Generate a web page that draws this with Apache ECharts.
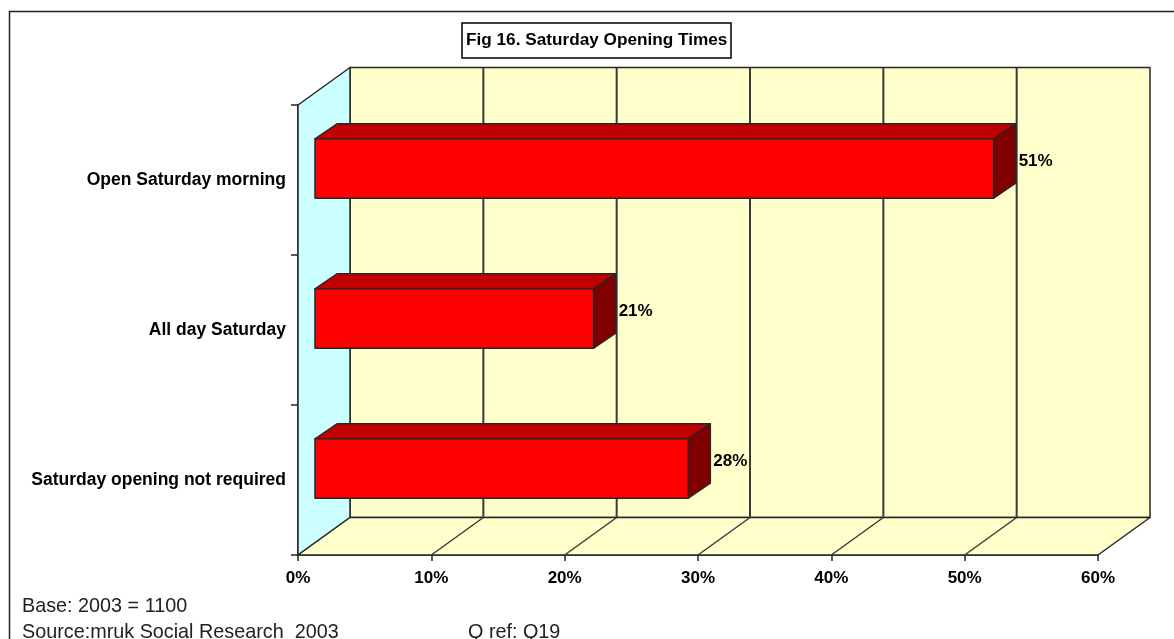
<!DOCTYPE html>
<html>
<head>
<meta charset="utf-8">
<title>Fig 16. Saturday Opening Times</title>
<script src="https://cdn.jsdelivr.net/npm/echarts@6/dist/echarts.min.js"></script>
<style>
  html, body { margin: 0; padding: 0; background: #fff; }
  #chart { width: 1174px; height: 639px; }
</style>
</head>
<body>
<div id="chart"></div>
<script>
const CATEGORIES = ['Saturday opening not required', 'All day Saturday', 'Open Saturday morning'];
// Bar lengths; the printed labels are these rounded.
const VALUES = [28, 20.9, 50.9];
const TICK_VALUES = [0, 10, 20, 30, 40, 50, 60];

const TITLE = 'Fig 16. Saturday Opening Times';
const NOTES = ['Base: 2003 = 1100', 'Source:mruk Social Research  2003'];
const QREF = 'Q ref: Q19';

// Fake 3D: wall depth and bar depth, in pixels.
const WALL_DX = 52;
const WALL_DY = -37.5;
const BAR_DX = 22;
const BAR_DY = -15;
const BAR_OFF_X = 17;
const BAR_OFF_Y = -11.5;
const BAR_H = 59.5;

const LINE = '#262626';
const GRID_LINE = '#3a3a3a';
const WALL = '#ffffcc';
const SIDE_WALL = '#ccffff';
const FONT = '"Liberation Sans", Arial, sans-serif';
const BOLD_SIZE = 17;
const NOTE_FONT = '19.8px ' + FONT;

function poly(points, fill, z2) {
  return {
    type: 'polygon',
    z2: z2 || 0,
    shape: { points },
    style: { fill, stroke: LINE, lineWidth: 1.5, lineJoin: 'round' },
  };
}

function seg(x1, y1, x2, y2, width) {
  return {
    type: 'line',
    z2: 2,
    shape: { x1, y1, x2, y2 },
    style: { stroke: GRID_LINE, lineWidth: width },
  };
}

// Side wall, floor, back wall and the gridlines running over them.
function renderWalls(params, api) {
  const maxTick = TICK_VALUES[TICK_VALUES.length - 1];
  const x0 = api.coord([0, CATEGORIES[0]])[0];
  const x1 = api.coord([maxTick, CATEGORIES[0]])[0];
  const yt = params.coordSys.y;
  const bottom = yt + params.coordSys.height;
  const dx = WALL_DX, dy = WALL_DY;
  const children = [
    poly([[x0 + dx, yt + dy], [x1 + dx, yt + dy], [x1 + dx, bottom + dy], [x0 + dx, bottom + dy]], WALL),
    poly([[x0, yt], [x0 + dx, yt + dy], [x0 + dx, bottom + dy], [x0, bottom]], SIDE_WALL, 1),
    poly([[x0, bottom], [x0 + dx, bottom + dy], [x1 + dx, bottom + dy], [x1, bottom]], WALL, 1),
  ];
  TICK_VALUES.slice(1, -1).forEach(v => {
    const x = api.coord([v, CATEGORIES[0]])[0];
    children.push(seg(x + dx, yt + dy, x + dx, bottom + dy, 2));
    children.push(seg(x, bottom, x + dx, bottom + dy, 1.5));
  });
  return { type: 'group', children };
}

function renderBar(params, api) {
  const value = api.value(0);
  const [xStart, yc] = api.coord([0, api.value(1)]);
  const xEnd = api.coord([value, api.value(1)])[0];
  const l = xStart + BAR_OFF_X;
  const r = xEnd + BAR_OFF_X;
  const t = yc + BAR_OFF_Y - BAR_H / 2;
  const b = t + BAR_H;
  const dx = BAR_DX, dy = BAR_DY;
  return {
    type: 'group',
    children: [
      poly([[l, t], [l + dx, t + dy], [r + dx, t + dy], [r, t]], '#c00000'),
      poly([[r, t], [r + dx, t + dy], [r + dx, b + dy], [r, b]], '#800000'),
      poly([[l, t], [r, t], [r, b], [l, b]], '#ff0000'),
      {
        type: 'text',
        style: {
          x: r + dx + 3,
          y: t + 23,
          text: Math.round(value) + '%',
          fill: '#000',
          font: 'bold ' + BOLD_SIZE + 'px ' + FONT,
          textVerticalAlign: 'middle',
        },
      },
    ],
  };
}

const chart = echarts.init(document.getElementById('chart'), null, { renderer: 'canvas' });

chart.setOption({
  animation: false,
  backgroundColor: '#fff',
  title: {
    text: TITLE,
    left: 462,
    top: 23,
    padding: [9, 4, 9, 4],
    backgroundColor: '#fff',
    borderColor: '#000',
    borderWidth: 1.5,
    textStyle: { fontFamily: FONT, fontSize: 17.2, fontWeight: 'bold', color: '#000' },
    z: 10,
  },
  grid: { left: 298, top: 105, width: 800, height: 450 },
  xAxis: {
    type: 'value',
    min: 0,
    max: 60,
    interval: 10,
    axisLine: { show: true, onZero: false, lineStyle: { color: LINE, width: 1.5 } },
    axisTick: { show: true, length: 6, lineStyle: { color: LINE, width: 1.5 } },
    splitLine: { show: false },
    axisLabel: {
      formatter: '{value}%',
      margin: 15,
      color: '#000',
      fontFamily: FONT,
      fontSize: BOLD_SIZE,
      fontWeight: 'bold',
    },
  },
  yAxis: {
    type: 'category',
    data: CATEGORIES,
    axisLine: { show: true, onZero: false, lineStyle: { color: LINE, width: 1.5 } },
    axisTick: { show: true, length: 7, lineStyle: { color: LINE, width: 1.5 } },
    axisLabel: {
      margin: 12,
      color: '#000',
      fontFamily: FONT,
      fontSize: 17.5,
      fontWeight: 'bold',
    },
  },
  series: [
    {
      type: 'custom',
      silent: true,
      z: 1,
      renderItem: renderWalls,
      data: [[0, CATEGORIES[0]]],
      encode: { x: 0, y: 1 },
      clip: false,
    },
    {
      type: 'custom',
      z: 3,
      renderItem: renderBar,
      data: VALUES.map((v, i) => [v, CATEGORIES[i]]),
      encode: { x: 0, y: 1 },
      clip: false,
    },
  ],
  graphic: [
    {
      type: 'rect',
      silent: true,
      z: -1,
      // runs off the right and bottom of the page, as in the picture
      shape: { x: 9.5, y: 11.5, width: 1200, height: 680 },
      style: { fill: '#fff', stroke: '#222', lineWidth: 1.5 },
    },
    {
      type: 'text',
      left: 22,
      top: 597,
      style: { text: NOTES[0], fill: '#222', font: NOTE_FONT },
    },
    {
      type: 'text',
      left: 22,
      top: 623,
      style: { text: NOTES[1], fill: '#222', font: NOTE_FONT },
    },
    {
      type: 'text',
      left: 468,
      top: 623,
      style: { text: QREF, fill: '#222', font: NOTE_FONT },
    },
  ],
});

window.addEventListener('resize', () => chart.resize());
</script>
</body>
</html>
